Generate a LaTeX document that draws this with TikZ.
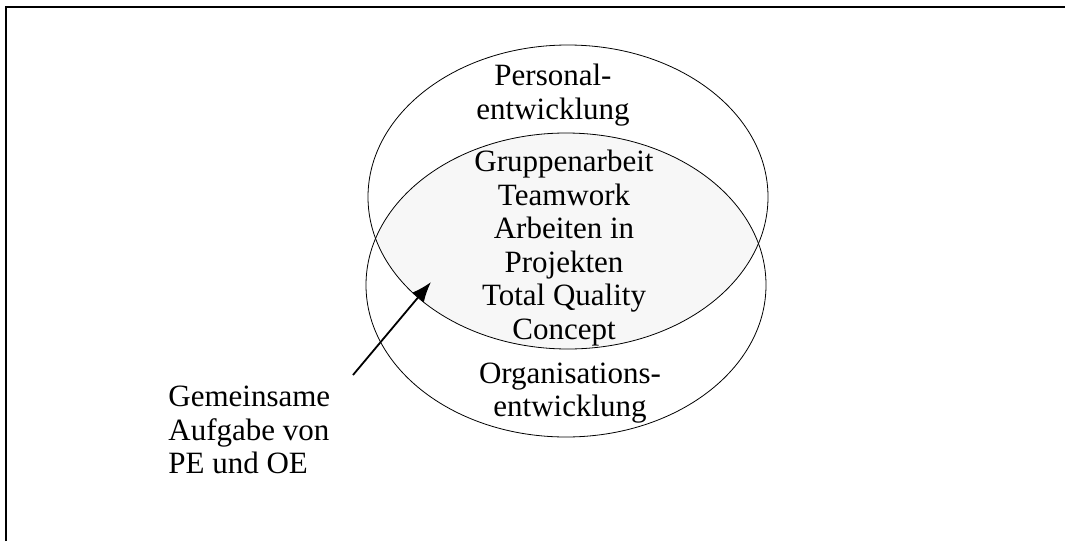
\documentclass[tikz,border=0pt]{standalone}
\usepackage{fontspec}
\setmainfont{Liberation Serif}
\usetikzlibrary{arrows.meta,positioning,shapes.geometric}

\begin{document}
\begin{tikzpicture}[x=1pt, y=-1pt, thick, inner sep=0pt, draw=black]
	\tikzset{circ/.style={ellipse,draw=black,line width=0.8pt,minimum width=400pt,minimum height=304pt},
		txt/.style={align=center,font=\fontsize{31}{33.6}\selectfont},
		pointer/.style={-{Latex[length=20pt,width=15pt]},line width=1.8pt}}
	\useasboundingbox (0,0) rectangle (1065,541);
	% Frame
	\draw[line width=1.5pt] (6,541) -- (6,7) -- (1065,7);
	% Overlap
	\begin{scope}
		\clip (568,197) ellipse [x radius=200pt, y radius=152pt];
		\fill[black!3] (566,285) ellipse [x radius=200pt, y radius=152pt];
	\end{scope}
	% Sets
	\node[circ] (pe) at (568,197) {};
	\node[circ] (oe) at (566,285) {};
	% Texts
	\node[txt] (pelabel) at (553,95) {Personal-\\entwicklung};
	\node[txt] (both) at (564,248) {Gruppenarbeit\\Teamwork\\Arbeiten in\\Projekten\\Total Quality\\Concept};
	\node[txt] (oelabel) at (570,393) {Organisations-\\entwicklung};
	\node[txt, align=left, anchor=west] (task) at (168,430) {Gemeinsame\\Aufgabe von\\PE und OE};
	%Pointer
	\coordinate (tail) at (353,375);
	\coordinate (tip) at (431,282);
	\draw[pointer] (tail) -- (tip);
\end{tikzpicture}
\end{document}
